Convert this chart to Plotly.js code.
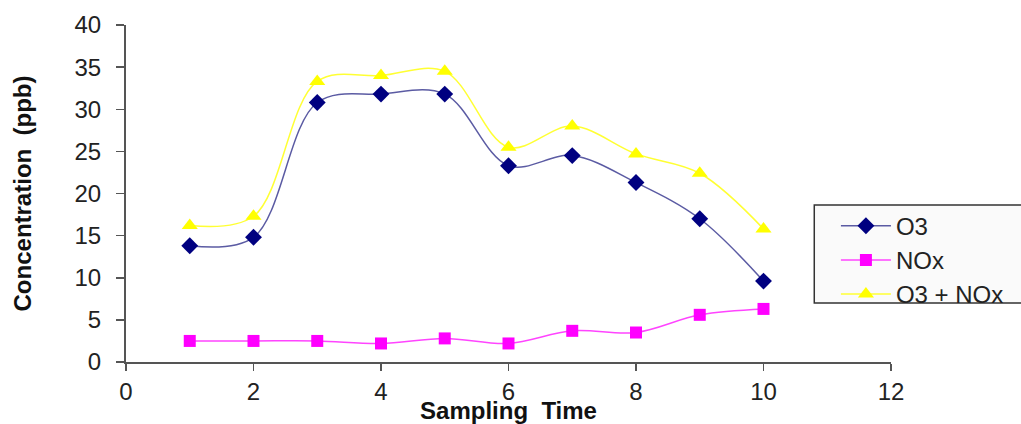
<!DOCTYPE html>
<html>
<head>
<meta charset="utf-8">
<script src="https://cdn.plot.ly/plotly-3.0.1.min.js"></script>
<style>html,body{margin:0;padding:0;background:#fff;}#chart{width:1021px;height:424px;}</style>
</head>
<body>
<div id="chart"></div>
<script>
const samplingTime = [1, 2, 3, 4, 5, 6, 7, 8, 9, 10];
const o3 = [13.8, 14.8, 30.8, 31.8, 31.8, 23.3, 24.5, 21.3, 17.0, 9.6];
const nox = [2.5, 2.5, 2.5, 2.2, 2.8, 2.2, 3.7, 3.5, 5.6, 6.3];
const o3PlusNox = [16.2, 17.3, 33.3, 34.0, 34.5, 25.5, 28.0, 24.7, 22.4, 15.8];
const seriesNames = ["O3", "NOx", "O3 + NOx"];
const xTicks = [0, 2, 4, 6, 8, 10, 12];
const yTicks = [0, 5, 10, 15, 20, 25, 30, 35, 40];

const FONT = "Liberation Sans, Arial, sans-serif";

const traces = [
  {
    x: samplingTime, y: o3, name: seriesNames[0], type: "scatter", mode: "lines+markers",
    line: {color: "#5b5ba3", width: 1.5, shape: "spline", smoothing: 1},
    marker: {symbol: "diamond", size: 13, color: "#000080"}
  },
  {
    x: samplingTime, y: nox, name: seriesNames[1], type: "scatter", mode: "lines+markers",
    line: {color: "#ff44ff", width: 1.5, shape: "spline", smoothing: 1},
    marker: {symbol: "square", size: 12, color: "#ff00ff"}
  },
  {
    x: samplingTime, y: o3PlusNox, name: seriesNames[2], type: "scatter", mode: "lines+markers",
    line: {color: "#ffff33", width: 1.5, shape: "spline", smoothing: 1},
    marker: {symbol: "triangle-up", size: 14, color: "#ffff00"}
  }
];

const layout = {
  width: 1021, height: 424,
  margin: {l: 126, r: 127, t: 25, b: 62},
  paper_bgcolor: "#ffffff",
  plot_bgcolor: "#ffffff",
  showlegend: true,
  legend: {
    x: 0.928, y: 0.47, xanchor: "left", yanchor: "top",
    bgcolor: "rgba(0,0,0,0)", borderwidth: 0,
    font: {family: FONT, size: 24, color: "#222"},
    itemwidth: 50
  },
  shapes: [
    {type: "rect", xref: "paper", yref: "paper", x0: 0.8997, x1: 1.18, y0: 0.175, y1: 0.466,
     fillcolor: "#fafafa", line: {color: "#333", width: 1.5}, layer: "below"}
  ],
  xaxis: {
    range: [0, 12], tickvals: xTicks, ticktext: xTicks.map(String),
    showgrid: false, zeroline: false, showline: true, linecolor: "#555", linewidth: 2,
    ticks: "outside", ticklen: 7, tickcolor: "#555", tickwidth: 1.5,
    tickfont: {family: FONT, size: 24, color: "#222"},
    title: {text: "Sampling  Time", font: {family: FONT, size: 24, color: "#111", weight: "bold"}, standoff: 3}
  },
  yaxis: {
    range: [0, 40], tickvals: yTicks, ticktext: yTicks.map(String),
    showgrid: false, zeroline: false, showline: true, linecolor: "#555", linewidth: 2,
    ticks: "outside", ticklen: 8, tickcolor: "#555", tickwidth: 1.5,
    ticklabelstandoff: 10,
    tickfont: {family: FONT, size: 24, color: "#222"},
    title: {text: "Concentration  (ppb)", font: {family: FONT, size: 24, color: "#111", weight: "bold"}, standoff: 36}
  }
};

Plotly.newPlot("chart", traces, layout, {displayModeBar: false, staticPlot: true});
</script>
</body>
</html>
